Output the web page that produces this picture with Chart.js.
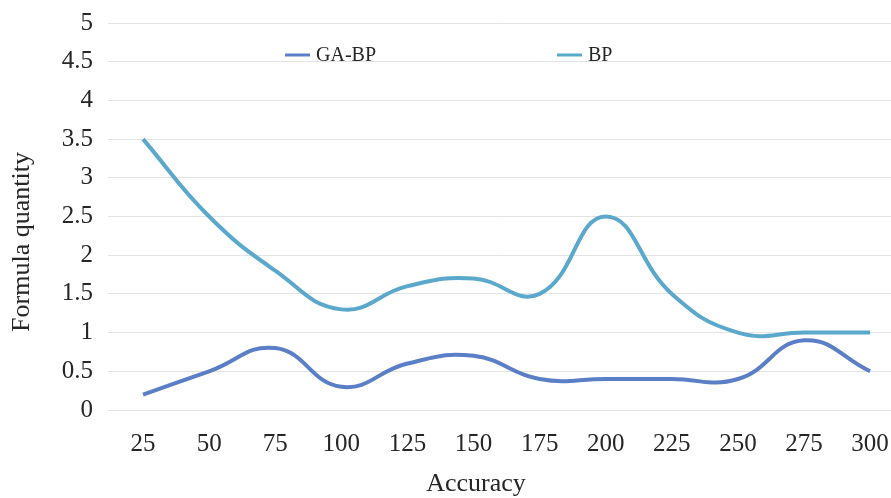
<!DOCTYPE html>
<html>
<head>
<meta charset="utf-8">
<script src="https://cdn.jsdelivr.net/npm/chart.js@4"></script>
<style>
  html, body { margin: 0; padding: 0; background: #ffffff; }
  #wrap { width: 891px; height: 498px; }
</style>
</head>
<body>
<div id="wrap"><canvas id="c" width="891" height="498"></canvas></div>
<script>
const categories = [25, 50, 75, 100, 125, 150, 175, 200, 225, 250, 275, 300];
const gaBp = [0.2, 0.5, 0.8, 0.3, 0.6, 0.7, 0.4, 0.4, 0.4, 0.4, 0.9, 0.5];
const bp = [3.5, 2.5, 1.8, 1.3, 1.6, 1.7, 1.5, 2.5, 1.5, 1.0, 1.0, 1.0];
const yTicks = [0, 0.5, 1, 1.5, 2, 2.5, 3, 3.5, 4, 4.5, 5];
const seriesNames = ['GA-BP', 'BP'];
const xTitle = 'Accuracy';
const yTitle = 'Formula quantity';

const FONT = '"Liberation Serif", "Times New Roman", serif';
const TEXT = '#262626';

const overlay = {
  id: 'overlay',
  afterDraw(chart) {
    const ctx = chart.ctx;
    ctx.save();
    ctx.fillStyle = TEXT;
    ctx.font = '26px ' + FONT;
    ctx.textAlign = 'center';
    ctx.textBaseline = 'middle';
    ctx.fillText(xTitle, 476, 484);
    ctx.translate(22, 242);
    ctx.rotate(-Math.PI / 2);
    ctx.fillText(yTitle, 0, 0);
    ctx.restore();
    ctx.save();
    ctx.font = '20px ' + FONT;
    ctx.textBaseline = 'middle';
    ctx.textAlign = 'left';
    const xs = [285, 557];
    chart.data.datasets.forEach((ds, i) => {
      const x = xs[i], y = 55;
      ctx.strokeStyle = ds.borderColor;
      ctx.lineWidth = 3;
      ctx.beginPath();
      ctx.moveTo(x, y);
      ctx.lineTo(x + 25, y);
      ctx.stroke();
      ctx.fillStyle = TEXT;
      ctx.fillText(ds.label, x + 31, y + 1);
    });
    ctx.restore();
  }
};

new Chart(document.getElementById('c'), {
  type: 'line',
  data: {
    datasets: [
      {
        label: seriesNames[0],
        data: categories.map((c, i) => ({ x: c, y: gaBp[i] })),
        borderColor: '#5b7fc6',
        borderWidth: 4,
        pointRadius: 0,
        tension: 0.45,
        fill: false
      },
      {
        label: seriesNames[1],
        data: categories.map((c, i) => ({ x: c, y: bp[i] })),
        borderColor: '#5aa8cc',
        borderWidth: 4,
        pointRadius: 0,
        tension: 0.45,
        fill: false
      }
    ]
  },
  options: {
    responsive: false,
    animation: false,
    devicePixelRatio: 1,
    layout: { padding: { top: 23, right: 0, left: 0, bottom: 0 } },
    plugins: {
      legend: { display: false },
      tooltip: { enabled: false }
    },
    scales: {
      x: {
        type: 'linear',
        min: 12.5,
        max: 307.9,
        afterBuildTicks: (s) => { s.ticks = categories.map(v => ({ value: v })); },
        afterFit: (s) => { s.height = 88; s.paddingLeft = 0; s.paddingRight = 0; },
        grid: { display: false, drawTicks: false },
        border: { display: false },
        ticks: {
          font: { family: FONT, size: 25 },
          color: TEXT,
          padding: 19,
          maxRotation: 0,
          autoSkip: false
        }
      },
      y: {
        min: 0,
        max: 5,
        afterBuildTicks: (s) => { s.ticks = yTicks.map(v => ({ value: v })); },
        afterFit: (s) => { s.width = 110; s.paddingTop = 0; s.paddingBottom = 0; },
        grid: { color: '#e3e3e3', lineWidth: 1, drawTicks: true, tickLength: 2 },
        border: { display: false },
        ticks: {
          font: { family: FONT, size: 25 },
          color: TEXT,
          padding: 15,
          callback: (v) => String(v)
        }
      }
    }
  },
  plugins: [overlay]
});
</script>
</body>
</html>
